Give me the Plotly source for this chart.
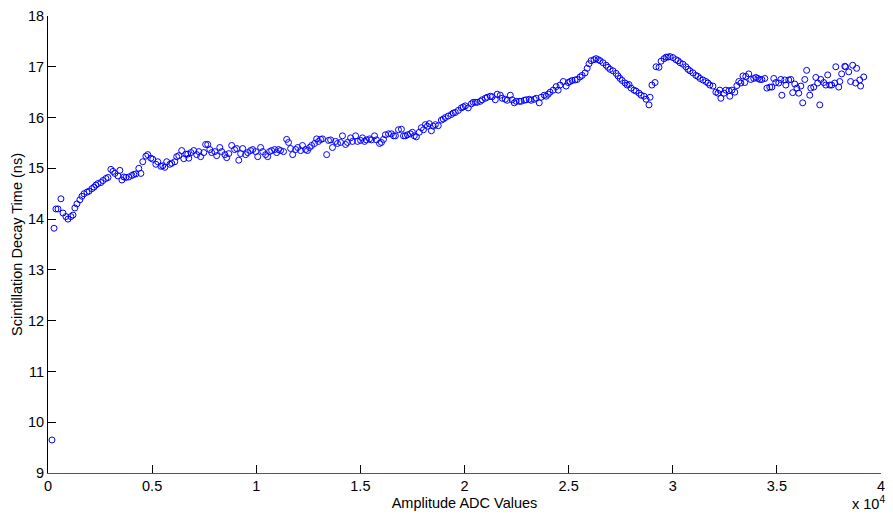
import plotly.graph_objects as go

# Amplitude bins (ADC counts) and measured decay time (ns)
adc = [
    190, 290, 380, 480, 620, 720, 860, 960, 1100, 1200, 1290, 1390, 1530, 1630, 1730,
    1870, 1970, 2110, 2210, 2300, 2400, 2540, 2640, 2780, 2880, 3020, 3120, 3210, 3360,
    3450, 3550, 3640, 3740, 3880, 4030, 4120, 4220, 4360, 4460, 4550, 4700, 4790, 4940,
    5030, 5180, 5270, 5420, 5510, 5610, 5700, 5850, 5940, 6090, 6180, 6280, 6420, 6520,
    6620, 6710, 6760, 6860, 7000, 7140, 7240, 7330, 7480, 7570, 7670, 7770, 7860, 8010,
    8100, 8250, 8340, 8490, 8580, 8680, 8820, 8960, 9060, 9160, 9250, 9350, 9490, 9590,
    9730, 9830, 9970, 10070, 10210, 10310, 10450, 10550, 10640, 10740, 10880, 10980,
    11070, 11170, 11310, 11460, 11550, 11650, 11750, 11890, 11990, 12130, 12220, 12370,
    12460, 12560, 12660, 12800, 12900, 12990, 13090, 13180, 13380, 13470, 13570, 13660,
    13810, 13900, 14050, 14140, 14290, 14380, 14530, 14620, 14770, 14860, 15010, 15100,
    15200, 15290, 15440, 15530, 15680, 15770, 15920, 16010, 16110, 16200, 16350, 16490,
    16590, 16680, 16830, 16970, 17070, 17160, 17260, 17400, 17500, 17590, 17690, 17830,
    17930, 18030, 18120, 18220, 18310, 18410, 18500, 18600, 18740, 18890, 18980, 19080,
    19220, 19370, 19460, 19560, 19700, 19850, 19940, 20040, 20180, 20330, 20420, 20520,
    20610, 20760, 20850, 21000, 21090, 21240, 21330, 21480, 21570, 21720, 21810, 21960,
    22050, 22200, 22290, 22390, 22480, 22630, 22720, 22870, 22960, 23110, 23200, 23350,
    23440, 23590, 23680, 23830, 23920, 24020, 24110, 24260, 24400, 24500, 24590, 24740,
    24880, 24980, 25070, 25170, 25310, 25410, 25550, 25650, 25790, 25890, 25980, 26080,
    26220, 26320, 26420, 26510, 26650, 26800, 26890, 26990, 27130, 27280, 27370, 27470,
    27570, 27710, 27810, 27900, 28000, 28140, 28240, 28380, 28480, 28620, 28720, 28860,
    28910, 29000, 29150, 29200, 29340, 29440, 29580, 29680, 29770, 29870, 30010, 30150,
    30250, 30350, 30490, 30630, 30730, 30830, 30970, 31110, 31210, 31310, 31450, 31590,
    31690, 31780, 31930, 32070, 32170, 32260, 32310, 32460, 32550, 32700, 32740, 32840,
    32980, 33080, 33170, 33270, 33370, 33460, 33510, 33650, 33750, 33890, 33990, 34090,
    34180, 34280, 34420, 34520, 34660, 34760, 34850, 34950, 35090, 35190, 35240, 35380,
    35430, 35570, 35670, 35760, 35860, 35960, 36050, 36150, 36240, 36340, 36430, 36580,
    36630, 36770, 36870, 36960, 37060, 37110, 37250, 37350, 37440, 37540, 37630, 37780,
    37830, 37970, 38020, 38110, 38260, 38300, 38450, 38540, 38640, 38780, 38830, 38980,
    39020, 39170,
]

decay_ns = [
    9.65, 13.82, 14.2, 14.2, 14.4, 14.12, 14.05, 14.0, 14.05, 14.08, 14.22, 14.3, 14.38,
    14.45, 14.5, 14.53, 14.55, 14.6, 14.63, 14.67, 14.7, 14.72, 14.76, 14.8, 14.82, 14.98,
    14.94, 14.9, 14.85, 14.96, 14.77, 14.83, 14.82, 14.83, 14.86, 14.88, 14.89, 15.0, 14.9,
    15.13, 15.24, 15.27, 15.2, 15.18, 15.08, 15.13, 15.04, 15.05, 15.02, 15.13, 15.08,
    15.1, 15.13, 15.23, 15.25, 15.35, 15.19, 15.28, 15.28, 15.2, 15.31, 15.35, 15.27,
    15.33, 15.23, 15.31, 15.47, 15.47, 15.37, 15.31, 15.33, 15.25, 15.41, 15.33, 15.27,
    15.21, 15.29, 15.45, 15.37, 15.39, 15.16, 15.29, 15.39, 15.27, 15.31, 15.35, 15.37,
    15.33, 15.23, 15.41, 15.33, 15.27, 15.23, 15.33, 15.35, 15.37, 15.31, 15.37, 15.35,
    15.33, 15.57, 15.51, 15.39, 15.27, 15.37, 15.41, 15.35, 15.45, 15.37, 15.35, 15.41,
    15.45, 15.49, 15.58, 15.53, 15.57, 15.58, 15.27, 15.55, 15.56, 15.41, 15.53, 15.49,
    15.51, 15.64, 15.47, 15.51, 15.6, 15.53, 15.64, 15.53, 15.55, 15.6, 15.53, 15.56,
    15.58, 15.56, 15.64, 15.56, 15.49, 15.51, 15.57, 15.66, 15.68, 15.68, 15.64, 15.64,
    15.76, 15.77, 15.64, 15.64, 15.66, 15.68, 15.71, 15.64, 15.62, 15.71, 15.8, 15.76,
    15.86, 15.83, 15.88, 15.74, 15.83, 15.86, 15.84, 15.95, 15.97, 16.0, 16.03, 16.06,
    16.09, 16.1, 16.14, 16.19, 16.21, 16.23, 16.19, 16.27, 16.3, 16.3, 16.3, 16.32,
    16.35, 16.38, 16.4, 16.42, 16.41, 16.35, 16.46, 16.44, 16.38, 16.36, 16.34, 16.44,
    16.35, 16.29, 16.32, 16.32, 16.32, 16.34, 16.35, 16.36, 16.34, 16.36, 16.38, 16.29,
    16.4, 16.44, 16.42, 16.46, 16.5, 16.54, 16.61, 16.54, 16.64, 16.71, 16.62, 16.69,
    16.71, 16.73, 16.74, 16.75, 16.8, 16.83, 16.88, 16.97, 17.06, 17.12, 17.14, 17.16,
    17.14, 17.12, 17.08, 17.03, 16.99, 16.95, 16.92, 16.87, 16.82, 16.77, 16.73, 16.68,
    16.64, 16.65, 16.58, 16.54, 16.52, 16.48, 16.44, 16.42, 16.36, 16.25, 16.4, 16.64,
    16.69, 17.0, 16.99, 17.11, 17.16, 17.19, 17.19, 17.2, 17.18, 17.14, 17.12, 17.08,
    17.05, 17.0, 16.95, 16.92, 16.88, 16.83, 16.81, 16.77, 16.74, 16.71, 16.68, 16.64,
    16.62, 16.5, 16.48, 16.54, 16.38, 16.48, 16.54, 16.53, 16.42, 16.54, 16.5, 16.63,
    16.71, 16.68, 16.82, 16.69, 16.81, 16.86, 16.75, 16.77, 16.79, 16.77, 16.75, 16.75,
    16.77, 16.58, 16.6, 16.6, 16.77, 16.69, 16.68, 16.75, 16.44, 16.74, 16.64, 16.74,
    16.75, 16.49, 16.66, 16.58, 16.48, 16.62, 16.29, 16.75, 16.93, 16.44, 16.58, 16.6,
    16.79, 16.68, 16.25, 16.75, 16.69, 16.64, 16.84, 16.64, 16.64, 16.68, 17.0, 16.6,
    16.71, 16.86, 17.01, 17.0, 16.9, 16.71, 17.03, 16.68, 16.97, 16.74, 16.62, 16.8,
]

x_tick_vals = [0, 5000, 10000, 15000, 20000, 25000, 30000, 35000, 40000]
x_tick_text = ["0", "0.5", "1", "1.5", "2", "2.5", "3", "3.5", "4"]
y_tick_vals = [9, 10, 11, 12, 13, 14, 15, 16, 17, 18]

FONT = "Liberation Sans, Arial, sans-serif"
FONT_SIZE = 14.5

fig = go.Figure(
    go.Scatter(
        x=adc,
        y=decay_ns,
        mode="markers",
        marker=dict(symbol="circle-open", size=6, color="#0000ff",
                    line=dict(width=1, color="#0000ff")),
        showlegend=False,
        hoverinfo="x+y",
    )
)

axis_common = dict(
    showgrid=False,
    zeroline=False,
    showline=True,
    linewidth=1,
    ticks="inside",
    ticklen=8,
    tickwidth=1,
    tickcolor="black",
    tickfont=dict(family=FONT, size=FONT_SIZE, color="black"),
    mirror=False,
)

fig.update_xaxes(
    range=[0, 40000],
    tickvals=x_tick_vals,
    ticktext=x_tick_text,
    linecolor="#555555",
    title=dict(text="Amplitude ADC Values", standoff=4,
               font=dict(family=FONT, size=FONT_SIZE, color="black")),
    **axis_common,
)
fig.update_yaxes(
    range=[9, 18],
    tickvals=y_tick_vals,
    linecolor="black",
    title=dict(text="Scintillation Decay Time (ns)", standoff=1,
               font=dict(family=FONT, size=FONT_SIZE, color="black")),
    **axis_common,
)

# MATLAB-style exponent label for the x-axis scale
fig.add_annotation(
    text="x 10<sup>4</sup>",
    xref="paper", yref="paper",
    x=1.0, y=-0.045,
    xanchor="right", yanchor="top",
    xshift=6, yshift=2,
    showarrow=False,
    font=dict(family=FONT, size=FONT_SIZE, color="black"),
)

fig.update_layout(
    width=893,
    height=519,
    margin=dict(l=48, r=8, t=13, b=46),
    plot_bgcolor="white",
    paper_bgcolor="white",
)

fig.write_html("out.html")
